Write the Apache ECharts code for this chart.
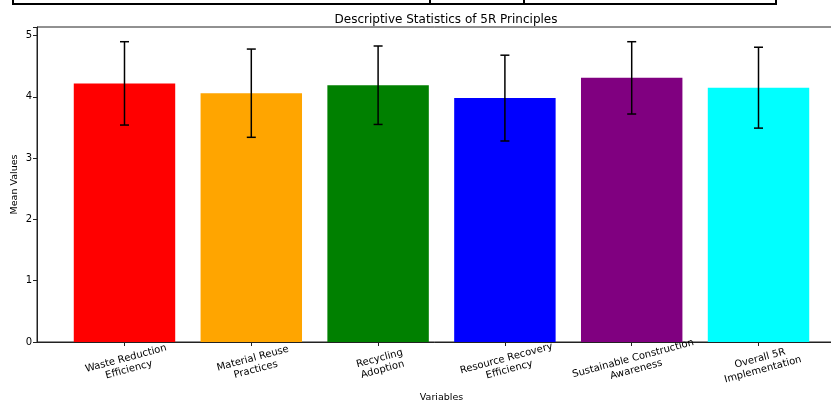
<!DOCTYPE html>
<html>
<head>
<meta charset="utf-8">
<script src="https://cdn.jsdelivr.net/npm/echarts@6/dist/echarts.min.js"></script>
<style>
html,body{margin:0;padding:0;background:#fff;}
#chart{width:831px;height:405px;}
</style>
</head>
<body>
<div id="chart"></div>
<script>
const categories = [
  "Waste Reduction\nEfficiency",
  "Material Reuse\nPractices",
  "Recycling\nAdoption",
  "Resource Recovery\nEfficiency",
  "Sustainable Construction\nAwareness",
  "Overall 5R\nImplementation"
];
const means = [4.22, 4.06, 4.19, 3.98, 4.31, 4.15];
const stdDevs = [0.68, 0.72, 0.64, 0.70, 0.59, 0.66];
const colors = ["#ff0000", "#ffa500", "#008000", "#0000ff", "#800080", "#00ffff"];
const yTicks = [0, 1, 2, 3, 4, 5];

const FONT = "DejaVu Sans";
const chart = echarts.init(document.getElementById('chart'));

const barData = means.map((v, i) => [i, v]);
const errData = means.map((v, i) => [i, v - stdDevs[i], v + stdDevs[i]]);

chart.setOption({
  animation: false,
  backgroundColor: '#fff',
  title: {
    text: 'Descriptive Statistics of 5R Principles',
    left: 441, top: 9, textAlign: 'center',
    textStyle: {fontFamily: FONT, fontSize: 12, fontWeight: 'normal', color: '#000'}
  },
  graphic: [
    {type: 'polyline', shape: {points: [[13, 0], [13, 4], [776, 4], [776, 0]]},
     style: {stroke: '#000', lineWidth: 2, fill: null}},
    {type: 'line', shape: {x1: 430, y1: 0, x2: 430, y2: 4}, style: {stroke: '#000', lineWidth: 2}},
    {type: 'line', shape: {x1: 524, y1: 0, x2: 524, y2: 4}, style: {stroke: '#000', lineWidth: 2}}
  ],
  grid: {
    left: 37, top: 27, width: 809, height: 315,
    outerBoundsMode: 'none', containLabel: false,
    show: true, borderColor: '#222', borderWidth: 1, backgroundColor: 'transparent'
  },
  xAxis: {
    type: 'value', min: -0.69, max: 5.69,
    name: 'Variables', nameLocation: 'middle', nameGap: 51, nameMoveOverlap: false,
    nameTextStyle: {fontFamily: FONT, fontSize: 9.5, color: '#000'},
    splitLine: {show: false},
    axisLine: {show: true, onZero: false, lineStyle: {color: '#222', width: 1}},
    axisTick: {show: true, length: 4, lineStyle: {color: '#222'}, customValues: [0, 1, 2, 3, 4, 5]},
    axisLabel: {
      customValues: [0, 1, 2, 3, 4, 5],
      formatter: v => categories[Math.round(v)],
      rotate: 15, align: 'center', verticalAlign: 'top', margin: 11,
      lineHeight: 11.5,
      fontFamily: FONT, fontSize: 10, color: '#000'
    }
  },
  yAxis: {
    type: 'value', min: 0, max: 5.14, interval: 1,
    name: 'Mean Values', nameLocation: 'middle', nameGap: 17, nameMoveOverlap: false,
    nameTextStyle: {fontFamily: FONT, fontSize: 9.5, color: '#000'},
    splitLine: {show: false},
    axisLine: {show: true, onZero: false, lineStyle: {color: '#222', width: 1}},
    axisTick: {show: true, length: 4, lineStyle: {color: '#222'}},
    axisLabel: {
      fontFamily: FONT, fontSize: 10, color: '#000', margin: 5,
      formatter: v => yTicks.includes(v) ? String(v) : ''
    }
  },
  series: [
    {
      type: 'custom',
      data: barData,
      encode: {x: 0, y: 1},
      renderItem: function (params, api) {
        const i = api.value(0);
        const v = api.value(1);
        const p0 = api.coord([i - 0.4, v]);
        const p1 = api.coord([i + 0.4, 0]);
        return {
          type: 'rect',
          shape: {x: p0[0], y: p0[1], width: p1[0] - p0[0], height: p1[1] - p0[1]},
          style: {fill: colors[i]}
        };
      },
      z: 2
    },
    {
      type: 'custom',
      data: errData,
      encode: {x: 0, y: [1, 2]},
      renderItem: function (params, api) {
        const i = api.value(0);
        const lo = api.coord([i, api.value(1)]);
        const hi = api.coord([i, api.value(2)]);
        const cap = 4.5;
        const st = {stroke: '#000', lineWidth: 1.5};
        return {
          type: 'group',
          children: [
            {type: 'line', shape: {x1: lo[0], y1: lo[1], x2: hi[0], y2: hi[1]}, style: st},
            {type: 'line', shape: {x1: lo[0] - cap, y1: lo[1], x2: lo[0] + cap, y2: lo[1]}, style: st},
            {type: 'line', shape: {x1: hi[0] - cap, y1: hi[1], x2: hi[0] + cap, y2: hi[1]}, style: st}
          ]
        };
      },
      z: 3
    }
  ]
});
</script>
</body>
</html>
